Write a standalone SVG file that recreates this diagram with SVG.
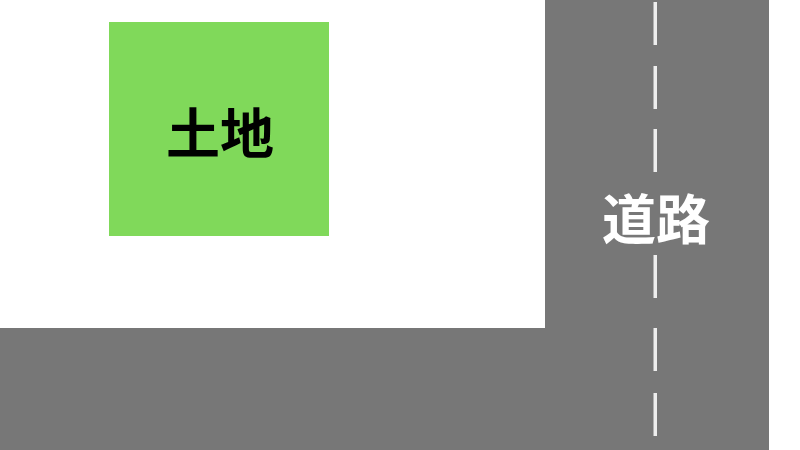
<svg xmlns="http://www.w3.org/2000/svg" width="800" height="450" viewBox="0 0 800 450">
<style>
.road{fill:#777777}
.dash{fill:#eeeeee}
.lbl{font-family:"Noto Sans CJK JP","Noto Sans CJK SC",sans-serif;font-weight:bold;font-size:54px;text-anchor:middle;dominant-baseline:central}
</style>
<rect width="800" height="450" fill="#ffffff"/>
<g id="road">
<rect class="road" x="545" y="0" width="224" height="450"/>
<rect class="road" x="0" y="328" width="555" height="122"/>
<rect class="dash" x="653.5" y="2" width="3.5" height="43"/>
<rect class="dash" x="653.5" y="66" width="3.5" height="43"/>
<rect class="dash" x="653.5" y="129" width="3.5" height="43"/>
<rect class="dash" x="653.5" y="255" width="3.5" height="43"/>
<rect class="dash" x="653.5" y="328" width="3.5" height="43"/>
<rect class="dash" x="653.5" y="393" width="3.5" height="43"/>
<text class="lbl" x="656" y="216" fill="#ffffff">道路</text>
</g>
<g id="land">
<rect x="109" y="22" width="220" height="214" fill="#80d95a"/>
<text class="lbl" x="220" y="130" fill="#000000">土地</text>
</g>
</svg>
